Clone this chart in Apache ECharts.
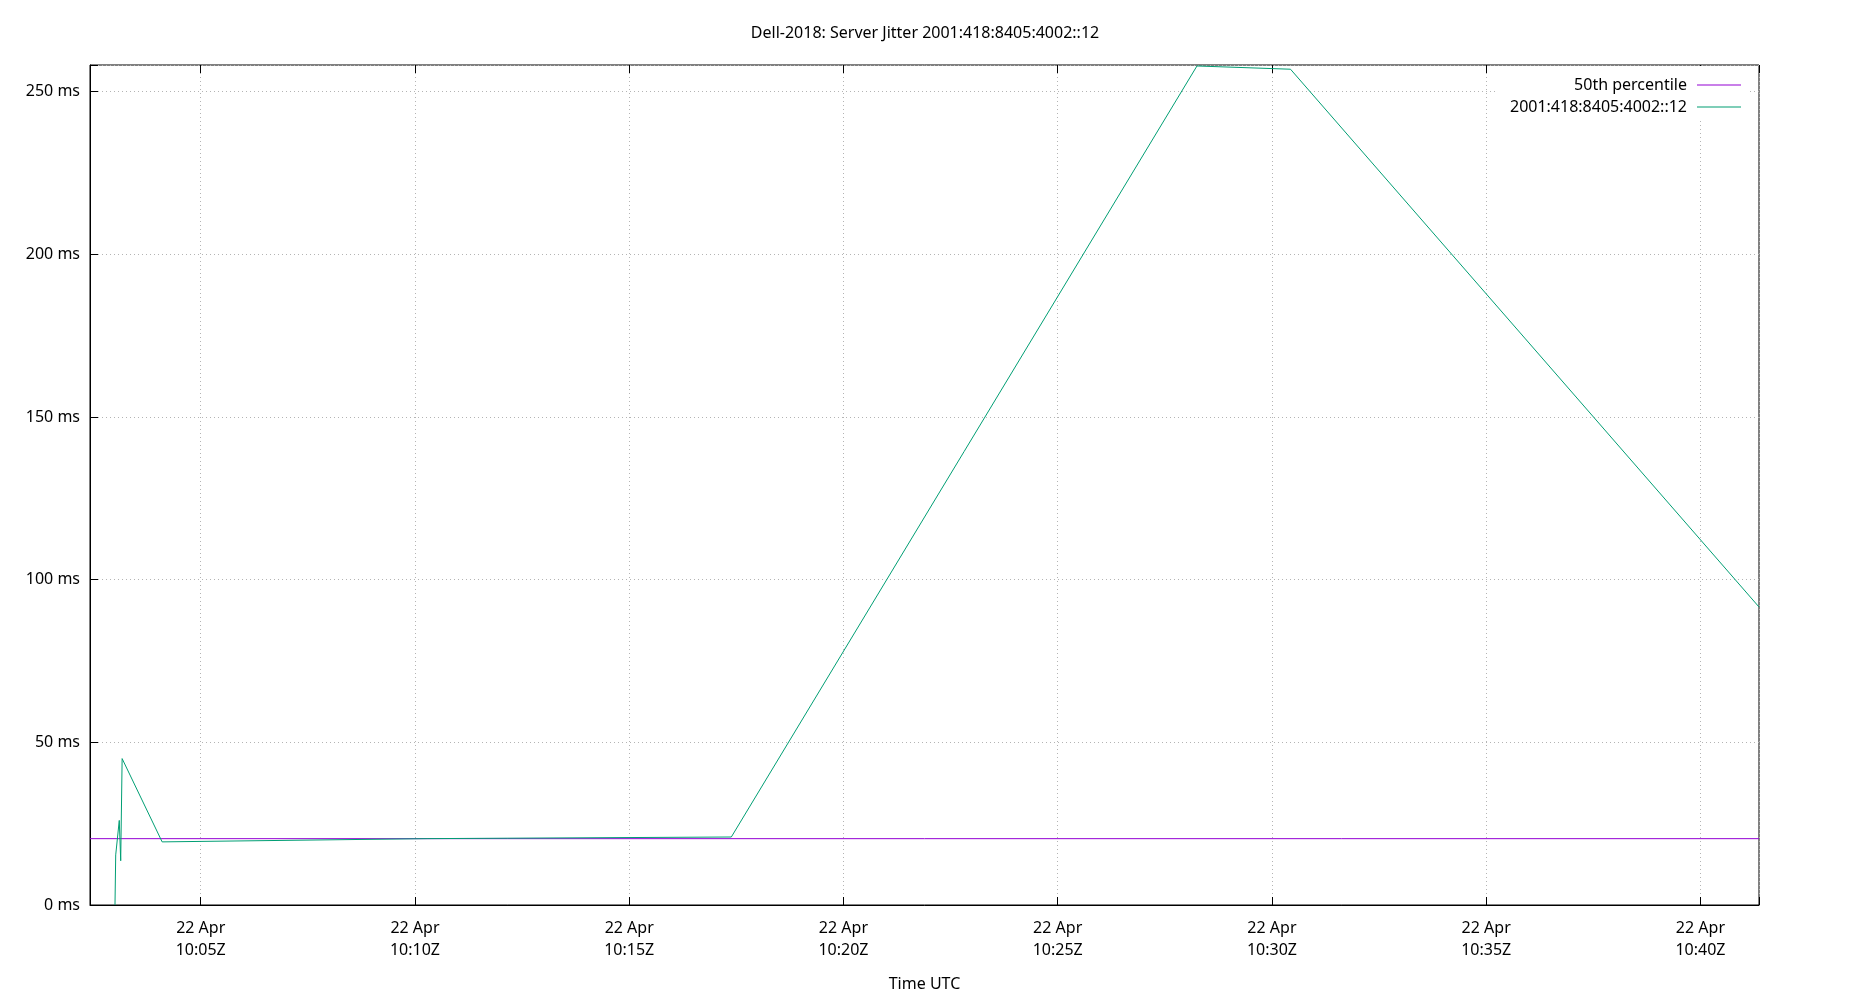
<!DOCTYPE html>
<html>
<head>
<meta charset="utf-8">
<script src="https://cdn.jsdelivr.net/npm/echarts@6/dist/echarts.min.js"></script>
<style>
html,body{margin:0;padding:0;background:#fff;}
#chart{width:1850px;height:1000px;}
</style>
</head>
<body>
<div id="chart"></div>
<script>
// ---- data ----
const chartTitle = 'Dell-2018: Server Jitter 2001:418:8405:4002::12';
const dateDay = '2021-04-22';
const sampleTimes = ['10:03:00','10:03:01','10:03:06','10:03:08','10:03:10','10:04:06','10:10:17','10:17:23','10:28:15','10:30:26','10:41:22'];
const jitterMs = [0, 15.4, 26.0, 13.6, 45.0, 19.4, 20.4, 20.9, 257.9, 256.9, 91.6];
const percentile50Ms = 20.39;
const seriesNames = ['50th percentile', '2001:418:8405:4002::12'];
const xRange = ['10:02:25', '10:41:22'];
const yMax = 258.2;
const yTickStep = 50;
const xTickStepMin = 5;
const monthNames = ['Jan','Feb','Mar','Apr','May','Jun','Jul','Aug','Sep','Oct','Nov','Dec'];

function ts(t) { return Date.parse(dateDay + 'T' + t + 'Z'); }
const xMin = ts(xRange[0]);
const xMax = ts(xRange[1]);
const jitterData = sampleTimes.map((t, i) => [ts(t), jitterMs[i]]);
const p50Data = [[xMin, percentile50Ms], [xMax, percentile50Ms]];
const stepMs = xTickStepMin * 60000;

function pad(n) { return (n < 10 ? '0' : '') + n; }
function fmtTime(v) {
  if (Math.abs(Math.round(v) % stepMs) !== 0) return '';
  const d = new Date(Math.round(v));
  return d.getUTCDate() + ' ' + monthNames[d.getUTCMonth()] + '\n' + pad(d.getUTCHours()) + ':' + pad(d.getUTCMinutes()) + 'Z';
}

const FONT = 'Noto Sans';
const gridLine = { show: true, lineStyle: { color: '#b4b4b4', width: 1, type: [1, 3] } };

const chart = echarts.init(document.getElementById('chart'), null, { renderer: 'canvas' });
chart.setOption({
  animation: false,
  backgroundColor: '#fff',
  textStyle: { fontFamily: FONT },
  title: {
    text: chartTitle,
    left: 'center',
    top: 24,
    padding: 0,
    textStyle: { fontFamily: FONT, fontSize: 16, fontWeight: 'normal', color: '#000', lineHeight: 18 }
  },
  legend: {
    orient: 'vertical',
    align: 'right',
    right: 102,
    top: 66,
    padding: [8, 7, 0, 12],
    itemGap: 0,
    itemWidth: 44,
    itemHeight: 1,
    icon: 'rect',
    backgroundColor: '#fff',
    selectedMode: false,
    textStyle: { fontFamily: FONT, fontSize: 16, color: '#000', lineHeight: 22, padding: [0, 5, 0, 0] },
    data: seriesNames
  },
  grid: {
    left: 90, right: 91, top: 65, bottom: 93,
    show: true, borderColor: '#000', borderWidth: 1, backgroundColor: 'transparent'
  },
  xAxis: [{
    type: 'value',
    min: xMin, max: xMax,
    minInterval: stepMs, maxInterval: stepMs,
    name: 'Time UTC',
    nameLocation: 'middle',
    nameGap: 68,
    nameTextStyle: { fontFamily: FONT, fontSize: 16, color: '#000', lineHeight: 22 },
    axisLine: { show: true, lineStyle: { color: '#000', width: 1 } },
    axisTick: { show: true, inside: true, length: 8, lineStyle: { color: '#000' } },
    axisLabel: {
      formatter: fmtTime, margin: 12, hideOverlap: false,
      showMinLabel: true, showMaxLabel: true,
      fontFamily: FONT, fontSize: 16, color: '#000', lineHeight: 22
    },
    splitLine: gridLine
  }, {
    type: 'value',
    position: 'top',
    min: xMin, max: xMax,
    minInterval: stepMs, maxInterval: stepMs,
    axisLine: { show: false },
    axisTick: { show: true, inside: true, length: 8, lineStyle: { color: '#000' } },
    axisLabel: { show: false },
    splitLine: { show: false }
  }],
  yAxis: {
    type: 'value',
    min: 0, max: yMax, interval: yTickStep,
    axisLine: { show: true, lineStyle: { color: '#000', width: 1 } },
    axisTick: { show: true, inside: true, length: 8, lineStyle: { color: '#000' } },
    axisLabel: {
      formatter: v => (Math.abs(v % yTickStep) < 1e-9 ? v + ' ms' : ''),
      margin: 10, fontFamily: FONT, fontSize: 16, color: '#000'
    },
    splitLine: gridLine
  },
  series: [{
    name: seriesNames[0],
    type: 'line',
    data: p50Data,
    showSymbol: false,
    symbol: 'none',
    color: '#9400d3',
    lineStyle: { color: '#9400d3', width: 1 },
    silent: true
  }, {
    name: seriesNames[1],
    type: 'line',
    data: jitterData,
    showSymbol: false,
    symbol: 'none',
    color: '#009e73',
    lineStyle: { color: '#009e73', width: 1 },
    silent: true
  }]
});
</script>
</body>
</html>
